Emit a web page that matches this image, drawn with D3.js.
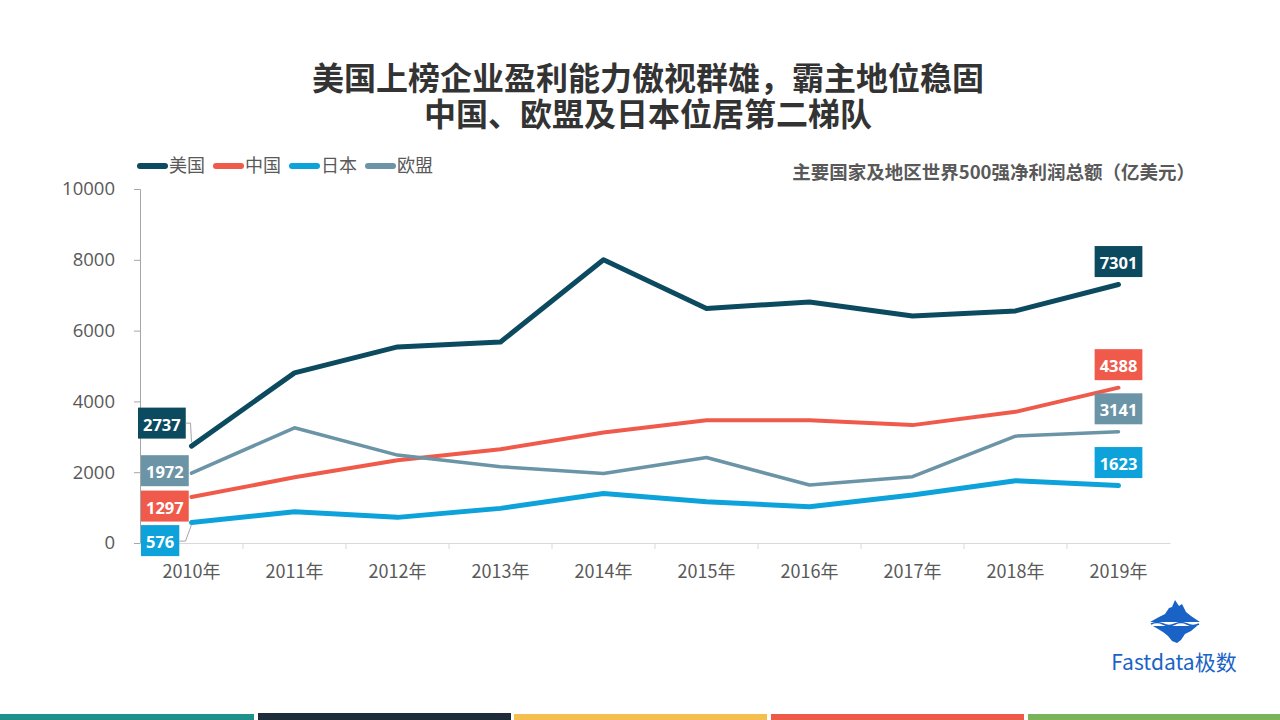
<!DOCTYPE html>
<html>
<head>
<meta charset="utf-8">
<script src="https://cdn.jsdelivr.net/npm/d3@7"></script>
<style>
  html, body { margin: 0; padding: 0; background: #fff; }
  svg { display: block; }
</style>
</head>
<body>
<svg id="chart" width="1280" height="720"></svg>
<script>
const years = ["2010年","2011年","2012年","2013年","2014年","2015年","2016年","2017年","2018年","2019年"];
const usa   = [2737, 4805, 5540, 5680, 8000, 6625, 6810, 6415, 6555, 7301];
const china = [1297, 1855, 2340, 2650, 3120, 3470, 3470, 3330, 3705, 4388];
const japan = [576, 884, 724, 978, 1400, 1166, 1025, 1354, 1759, 1623];
const eu    = [1972, 3254, 2483, 2154, 1966, 2417, 1637, 1872, 3019, 3141];
const seriesNames = ["美国", "中国", "日本", "欧盟"];
const yTicks = [0, 2000, 4000, 6000, 8000, 10000];
const titleLines = ["美国上榜企业盈利能力傲视群雄，霸主地位稳固", "中国、欧盟及日本位居第二梯队"];

const colors = ["#0b4a5f", "#ef5a4b", "#0ea2da", "#6b94a7"];
const widths = [5, 4, 5, 3.5];
const seriesVals = [usa, china, japan, eu];

const svg = d3.select("#chart");
const cjk = "'Noto Sans CJK SC', 'Open Sans', sans-serif";
const num = "'Open Sans', 'Noto Sans CJK SC', sans-serif";

// Title (one text element, two lines)
const title = svg.append("text").attr("text-anchor", "middle")
  .style("font-family", cjk).style("font-size", "32px").style("font-weight", 700).attr("fill", "#333");
title.append("tspan").attr("x", 648).attr("y", 90).text(titleLines[0]);
title.append("tspan").attr("x", 648).attr("y", 126).text(titleLines[1]);

// Subtitle
svg.append("text").attr("x", 1195).attr("y", 179).attr("text-anchor", "end")
  .style("font-family", cjk).style("font-size", "18.5px").style("font-weight", 700)
  .attr("fill", "#595959").text("主要国家及地区世界500强净利润总额（亿美元）");

// Scales
const x = d3.scaleBand().domain(years).range([140, 1170]).padding(0);
const y = d3.scaleLinear().domain([0, 10000]).range([543, 189]);
const cx = d => x(d) + x.bandwidth() / 2;

// Y axis
const yAxis = svg.append("g").attr("transform", "translate(140,0)")
  .call(d3.axisLeft(y).tickValues(yTicks).tickSize(6).tickPadding(19).tickFormat(d3.format("d")));
yAxis.select(".domain").attr("stroke", "#a6a6a6");
yAxis.selectAll(".tick line").attr("stroke", "#a6a6a6");
yAxis.selectAll(".tick text").style("font-family", num).style("font-size", "18.5px").attr("fill", "#595959");

// X axis
const xAxis = svg.append("g").attr("transform", "translate(0,543)")
  .call(d3.axisBottom(x).tickSize(0).tickPadding(22));
xAxis.select(".domain").attr("stroke", "#d9d9d9");
xAxis.selectAll(".tick text").style("font-family", cjk).style("font-size", "18px").attr("fill", "#595959");
xAxis.selectAll(".sep").data(years.slice(1)).enter().append("line")
  .attr("x1", d => x(d)).attr("x2", d => x(d)).attr("y1", 0).attr("y2", 6)
  .attr("stroke", "#d9d9d9");

// Lines
const line = d3.line().x((d, i) => cx(years[i])).y(d => y(d));
seriesVals.forEach((vals, k) => {
  svg.append("path").datum(vals).attr("d", line)
    .attr("fill", "none").attr("stroke", colors[k]).attr("stroke-width", widths[k])
    .attr("stroke-linejoin", "round").attr("stroke-linecap", "round");
});

// Labels
function label(val, color, boxX, boxCy, anchorCenter) {
  const g = svg.append("g");
  const t = g.append("text").style("font-family", num).style("font-size", "16.5px").style("font-weight", 700)
    .attr("fill", "#fff").attr("dominant-baseline", "central").text(val);
  const w = t.node().getComputedTextLength() + 10;
  const left = anchorCenter ? boxX - w / 2 : boxX;
  g.insert("rect", "text").attr("x", left).attr("y", boxCy - 15.5).attr("width", w).attr("height", 31).attr("fill", color);
  t.attr("x", left + w / 2).attr("y", boxCy + 1).attr("text-anchor", "middle");
  return {left, w};
}
// Left labels (order: usa, china, japan, eu)
const leftOffsets = [-23, 9, 18, -2.5];
const leftBoxes = [];
seriesVals.forEach((vals, k) => {
  leftBoxes[k] = label(vals[0], colors[k], k === 0 ? 138 : 141, y(vals[0]) + leftOffsets[k], false);
});
// Leader lines for USA and Japan
const x0 = cx(years[0]);
{
  const b = leftBoxes[0], by = y(usa[0]) - 23;
  svg.append("path").attr("d", `M${b.left + b.w},${by}H${x0 - 1}L${x0},${y(usa[0]) - 4}`)
    .attr("fill", "none").attr("stroke", "#a6a6a6").attr("stroke-width", 1);
  const j = leftBoxes[2], jy = y(japan[0]) + 18.5;
  svg.append("path").attr("d", `M${j.left + j.w},${jy}H${x0 - 6}L${x0},${y(japan[0]) + 2}`)
    .attr("fill", "none").attr("stroke", "#a6a6a6").attr("stroke-width", 1);
}
// Right labels
const xe = cx(years[years.length - 1]);
seriesVals.forEach((vals, k) => {
  label(vals[vals.length - 1], colors[k], xe, y(vals[vals.length - 1]) - 23, true);
});

// Legend
const legendX = [138, 214, 290, 366];
seriesNames.forEach((n, k) => {
  svg.append("line").attr("x1", legendX[k] + 2).attr("x2", legendX[k] + 27).attr("y1", 166).attr("y2", 166)
    .attr("stroke", colors[k]).attr("stroke-width", 6).attr("stroke-linecap", "round");
  svg.append("text").attr("x", legendX[k] + 31).attr("y", 172).style("font-family", cjk).style("font-size", "18px")
    .attr("fill", "#595959").text(n);
});

// Logo
const logo = svg.append("g").attr("transform", "translate(1175,622)");
logo.append("path").attr("d", "M0,-22 L4,-16 L7,-18 L11,-10 L16,-6 L25,0 L-25,0 L-16,-5 L-10,-8 L-6,-14 L-3,-15 Z").attr("fill", "#1a63c6");
logo.append("path").attr("d", "M-22,4 L22,4 L16,9 L10,12 L6,18 L2,21 L-3,19 L-7,14 L-12,10 Z").attr("fill", "#1a63c6");
logo.append("path").attr("d", "M-24,2 Q-18,-1 -12,2 T0,2 T12,2 T24,2").attr("fill", "none").attr("stroke", "#1a63c6").attr("stroke-width", 1.5);
svg.append("text").attr("x", 1174).attr("y", 670).attr("text-anchor", "middle")
  .style("font-family", cjk).style("font-size", "21px").attr("fill", "#1a63c6").text("Fastdata极数");

// Bottom stripes
const stripeColors = ["#20908c", "#1f2d3b", "#f5bf50", "#ee5a48", "#7bb35a"];
const stripeX = [0, 258, 514, 771, 1028];
const stripeW = [254, 253, 253, 253, 252];
stripeColors.forEach((c, i) => {
  svg.append("rect").attr("x", stripeX[i]).attr("y", i === 1 ? 713 : 714).attr("width", stripeW[i]).attr("height", i === 1 ? 7 : 6).attr("fill", c);
});
</script>
</body>
</html>
